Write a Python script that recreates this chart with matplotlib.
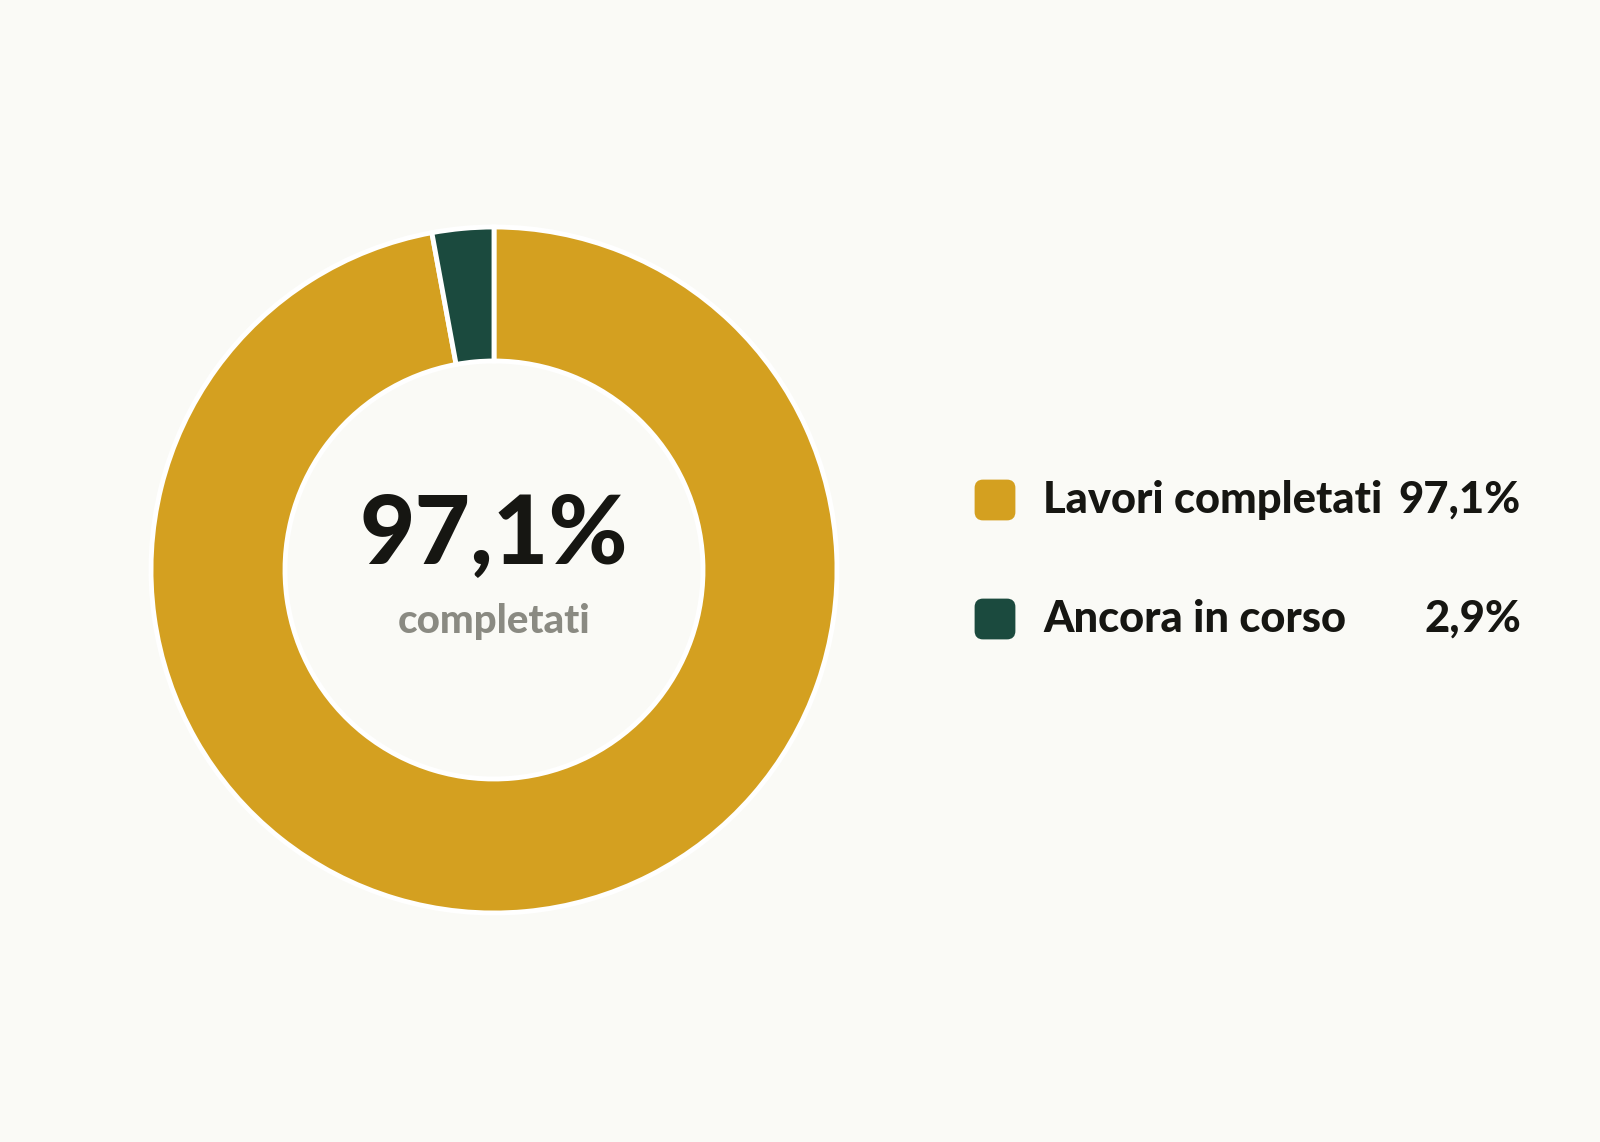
import matplotlib.pyplot as plt
from matplotlib.patches import FancyBboxPatch

# dati
etichette = ['Lavori completati', 'Ancora in corso']
valori = [97.1, 2.9]
valori_txt = ['97,1%', '2,9%']
colori = ['#D4A020', '#1B4A3E']
sfondo = '#FAFAF6'

W, H = 1600, 1142
fig = plt.figure(figsize=(16, 11.42), dpi=100, facecolor=sfondo)

# ciambella
cx, cy, r = 494, 570, 343
ax = fig.add_axes([(cx - r) / W, (H - cy - r) / H, 2 * r / W, 2 * r / H])
ax.set_facecolor(sfondo)
ax.pie(valori, colors=colori, startangle=90, counterclock=False, radius=1,
       wedgeprops=dict(width=1 - 209 / 343, edgecolor='white', linewidth=3.5))
ax.set_xlim(-1, 1)
ax.set_ylim(-1, 1)
ax.set_aspect('equal')
ax.axis('off')

ax.text(0, 0.10, valori_txt[0], ha='center', va='center', fontsize=69,
        fontweight=900, family='Lato', color='#161612')
ax.text(0, -0.15, 'completati', ha='center', va='center', fontsize=29,
        fontweight=900, family='Lato', color='#8A8A82')

# legenda
lax = fig.add_axes([0, 0, 1, 1])
lax.set_xlim(0, W)
lax.set_ylim(H, 0)
lax.axis('off')
righe_y = [500, 619]
for i, (lab, vt, col) in enumerate(zip(etichette, valori_txt, colori)):
    y = righe_y[i]
    lax.add_patch(FancyBboxPatch((976, y - 19), 38, 38,
                                 boxstyle='round,pad=0,rounding_size=7',
                                 fc=col, ec=col, lw=2))
    lax.text(1043, y, lab, ha='left', va='center', fontsize=31.3,
             fontweight=900, family='Lato', color='#161612')
    lax.text(1521, y, vt, ha='right', va='center', fontsize=31.3,
             fontweight=900, family='Lato', color='#161612')

fig.savefig('out.png', dpi=100, facecolor=sfondo)
